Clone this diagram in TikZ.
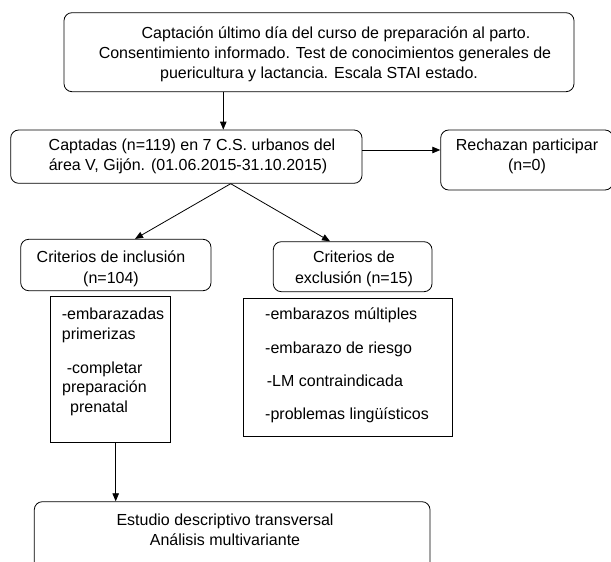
\documentclass[tikz,border=0pt]{standalone}
\usepackage{fontspec}
\setmainfont{Liberation Sans}
\usetikzlibrary{arrows.meta}
\begin{document}
\begin{tikzpicture}[x=1pt,y=-1pt,
  box/.style={draw, line width=0.8pt, rounded corners=8pt, inner sep=0pt},
  sqbox/.style={draw, line width=0.8pt, inner sep=0pt},
  txt/.style={font=\fontsize{16}{20}\selectfont, inner sep=0pt, anchor=base},
  ltxt/.style={txt, anchor=base west},
  arr/.style={-{Triangle[length=8pt,width=6.5pt]}, line width=0.8pt}]
\clip (0,0) rectangle (611,562);
\fill[white] (0,0) rectangle (611,562);

% boxes
\node[box, minimum width=510pt, minimum height=79pt] (top) at (319,52.2) {};
\node[box, minimum width=351.3pt, minimum height=53.3pt] (cap) at (186.35,156.65) {};
\node[box, minimum width=172.3pt, minimum height=60pt] (rech) at (526.85,160) {};
\node[box, minimum width=190.3pt, minimum height=51.4pt] (incl) at (115.85,265) {};
\node[box, minimum width=158.7pt, minimum height=50pt] (excl) at (352.65,266.7) {};
\node[sqbox, minimum width=120pt, minimum height=146pt] (inlist) at (110.7,369.7) {};
\node[sqbox, minimum width=209.4pt, minimum height=138pt] (exlist) at (348,367) {};
\node[box, minimum width=395.7pt, minimum height=98.3pt] (bot) at (232.15,550.85) {};

% texts
\node[txt] (t1) at (336,38.5) {Captación último día del curso de preparación al parto.};
\node[txt] (t2) at (325,58.5) {Consentimiento informado. Test de conocimientos generales de};
\node[txt] (t3) at (319,78.5) {puericultura y lactancia. Escala STAI estado.};
\node[txt] (c1) at (192,150.5) {Captadas (n=119) en 7 C.S. urbanos del};
\node[txt] (c2) at (188,170) {área V, Gijón. (01.06.2015-31.10.2015)};
\node[txt] (r1) at (527,150.5) {Rechazan participar};
\node[txt] (r2) at (527,170.5) {(n=0)};
\node[txt] (i1) at (111,262.5) {Criterios de inclusión};
\node[txt] (i2) at (111,283) {(n=104)};
\node[txt] (e1) at (354,262.5) {Criterios de};
\node[txt] (e2) at (354,283) {exclusión (n=15)};
\node[ltxt] (l1) at (61.7,319.5) {-embarazadas};
\node[ltxt] (l2) at (61.7,339) {primerizas};
\node[ltxt] (l3) at (66.7,373) {-completar};
\node[ltxt] (l4) at (62,392.5) {preparación};
\node[ltxt] (l5) at (70,412) {prenatal};
\node[ltxt] (x1) at (265,319.5) {-embarazos múltiples};
\node[ltxt] (x2) at (265,353) {-embarazo de riesgo};
\node[ltxt] (x3) at (266.7,386.5) {-LM contraindicada};
\node[ltxt] (x4) at (265,419) {-problemas lingüísticos};
\node[txt] (b1) at (225,525.5) {Estudio descriptivo transversal};
\node[txt] (b2) at (225,545.5) {Análisis multivariante};

% connectors
\coordinate (a1) at (223.3,0);
\coordinate (a2) at (0,150);
\coordinate (ap) at (230.7,0);
\coordinate (il) at (135,0);
\coordinate (el) at (330,0);
\coordinate (a3) at (115.7,0);
\draw[arr] (top.south -| a1) -- (cap.north -| a1);
\draw[arr] (cap.east |- a2) -- (rech.west |- a2);
\draw[arr] (cap.south -| ap) -- (incl.north -| il);
\draw[arr] (cap.south -| ap) -- (excl.north -| el);
\draw[arr] (inlist.south -| a3) -- (bot.north -| a3);
\end{tikzpicture}
\end{document}
